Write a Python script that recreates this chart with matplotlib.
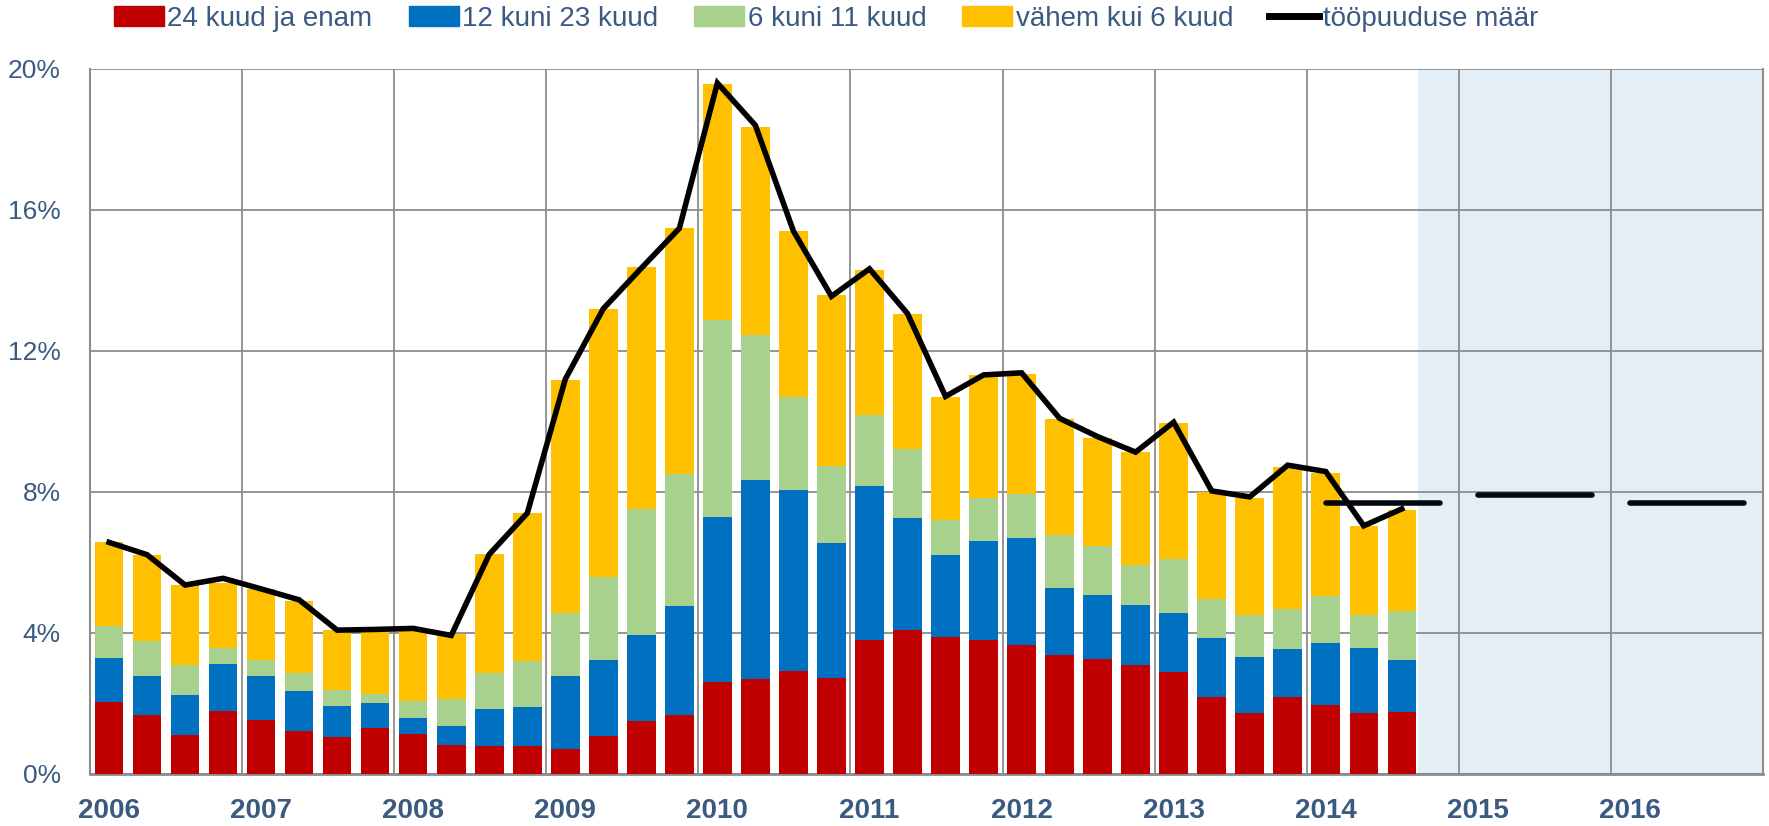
import matplotlib
matplotlib.use("Agg")
import matplotlib.pyplot as plt
from matplotlib.patches import Patch
from matplotlib.lines import Line2D
import numpy as np

plt.rcParams['font.family'] = ['Liberation Sans', 'DejaVu Sans']

# quarterly data 2006 Q1 .. 2014 Q3, share of labour force (%)
years = [2006, 2007, 2008, 2009, 2010, 2011, 2012, 2013, 2014, 2015, 2016]
long24 = [2.05, 1.68, 1.10, 1.78, 1.53, 1.23, 1.05, 1.29, 1.12, 0.83, 0.78, 0.78,
          0.71, 1.09, 1.51, 1.67, 2.61, 2.70, 2.93, 2.73, 3.81, 4.09, 3.89, 3.81,
          3.66, 3.38, 3.26, 3.10, 2.89, 2.18, 1.72, 2.17, 1.95, 1.74, 1.75]
m12_23 = [1.24, 1.09, 1.14, 1.35, 1.24, 1.12, 0.88, 0.72, 0.46, 0.54, 1.07, 1.12,
          2.07, 2.14, 2.43, 3.10, 4.67, 5.64, 5.13, 3.82, 4.36, 3.17, 2.32, 2.79,
          3.04, 1.90, 1.82, 1.69, 1.67, 1.67, 1.60, 1.38, 1.77, 1.83, 1.49]
m6_11 = [0.90, 0.99, 0.84, 0.44, 0.45, 0.52, 0.46, 0.26, 0.49, 0.76, 1.01, 1.30,
         1.78, 2.37, 3.57, 3.73, 5.60, 4.10, 2.64, 2.19, 2.01, 1.96, 0.99, 1.22,
         1.23, 1.49, 1.38, 1.15, 1.55, 1.11, 1.20, 1.14, 1.32, 0.94, 1.37]
under6 = [2.38, 2.44, 2.28, 1.84, 2.04, 2.05, 1.68, 1.80, 2.03, 1.83, 3.37, 4.21,
          6.62, 7.59, 6.87, 6.98, 6.69, 5.91, 4.70, 4.84, 4.13, 3.83, 3.50, 3.50,
          3.42, 3.30, 3.07, 3.19, 3.86, 3.05, 3.32, 4.03, 3.50, 2.53, 2.88]
rate = [6.57, 6.22, 5.36, 5.55, 5.25, 4.94, 4.08, 4.10, 4.13, 3.93, 6.23, 7.40,
        11.2, 13.2, 14.35, 15.48, 19.6, 18.4, 15.4, 13.55, 14.33, 13.06, 10.71, 11.32,
        11.38, 10.09, 9.57, 9.13, 9.98, 8.03, 7.86, 8.76, 8.58, 7.04, 7.52]
# annual forecast
fc_years = [2014, 2015, 2016]
fc_rate = [7.7, 7.9, 7.7]

c_red = '#C00000'
c_blue = '#0070C0'
c_green = '#A9D18E'
c_yellow = '#FFC000'
c_text = '#3B5A82'
c_grid = '#8C8C8C'

fig = plt.figure(figsize=(17.69, 8.26), dpi=100)
ax = fig.add_axes([0.0509, 0.063, 0.9457, 0.8535])

x = np.arange(len(long24))
w = 0.75
b1 = np.array(long24)
b2 = b1 + np.array(m12_23)
b3 = b2 + np.array(m6_11)
ax.bar(x, long24, w, color=c_red, zorder=3)
ax.bar(x, m12_23, w, bottom=b1, color=c_blue, zorder=3)
ax.bar(x, m6_11, w, bottom=b2, color=c_green, zorder=3)
ax.bar(x, under6, w, bottom=b3, color=c_yellow, zorder=3)
ax.plot(x, rate, color='black', lw=4, zorder=5, solid_joinstyle='miter')

# forecast period shading and annual lines
ax.axvspan(x[-1] + w / 2 + 0.04, 4 * len(years) - 0.5, color='#E4EEF7', zorder=0, lw=0)
for yr, v in zip(fc_years, fc_rate):
    s = 4 * (yr - years[0])
    ax.plot([s, s + 3], [v, v], color='#02070D', lw=4, solid_capstyle='round', zorder=6)

ax.set_xlim(-0.5, 4 * len(years) - 0.5)
ax.set_ylim(0, 20)
ax.set_yticks([0, 4, 8, 12, 16, 20])
ax.set_yticklabels(['%d%%' % v for v in [0, 4, 8, 12, 16, 20]])
ax.set_xticks(np.arange(3.5, 4 * len(years) - 1, 4), minor=True)
ax.set_xticks([4 * i for i in range(len(years))])
ax.set_xticklabels([str(y) for y in years], fontweight='bold', fontsize=20)
ax.grid(True, axis='y', color=c_grid, lw=1.3, zorder=1)
ax.grid(True, axis='x', which='minor', color=c_grid, lw=1.3, zorder=1)
ax.tick_params(axis='both', which='both', length=0, colors=c_text)
ax.tick_params(axis='y', labelsize=19, pad=21)
ax.tick_params(axis='x', pad=17)
for side in ['left', 'right', 'bottom']:
    ax.spines[side].set_color(c_grid)
    ax.spines[side].set_linewidth(1.5)
ax.spines['bottom'].set_linewidth(2)
ax.spines['top'].set_visible(False)

handles = [Patch(color=c_red), Patch(color=c_blue), Patch(color=c_green),
           Patch(color=c_yellow), Line2D([], [], color='black', lw=5)]
labels = ['24 kuud ja enam', '12 kuni 23 kuud', '6 kuni 11 kuud',
          'vähem kui 6 kuud', 'tööpuuduse määr']
leg = fig.legend(handles, labels, loc='center', bbox_to_anchor=(0.467, 0.977),
                 ncol=5, frameon=False, fontsize=20, handlelength=1.8,
                 handleheight=0.72, handletextpad=0.12, columnspacing=1.3,
                 borderaxespad=0)
for t in leg.get_texts():
    t.set_color(c_text)

fig.savefig('out.png', dpi=100)
